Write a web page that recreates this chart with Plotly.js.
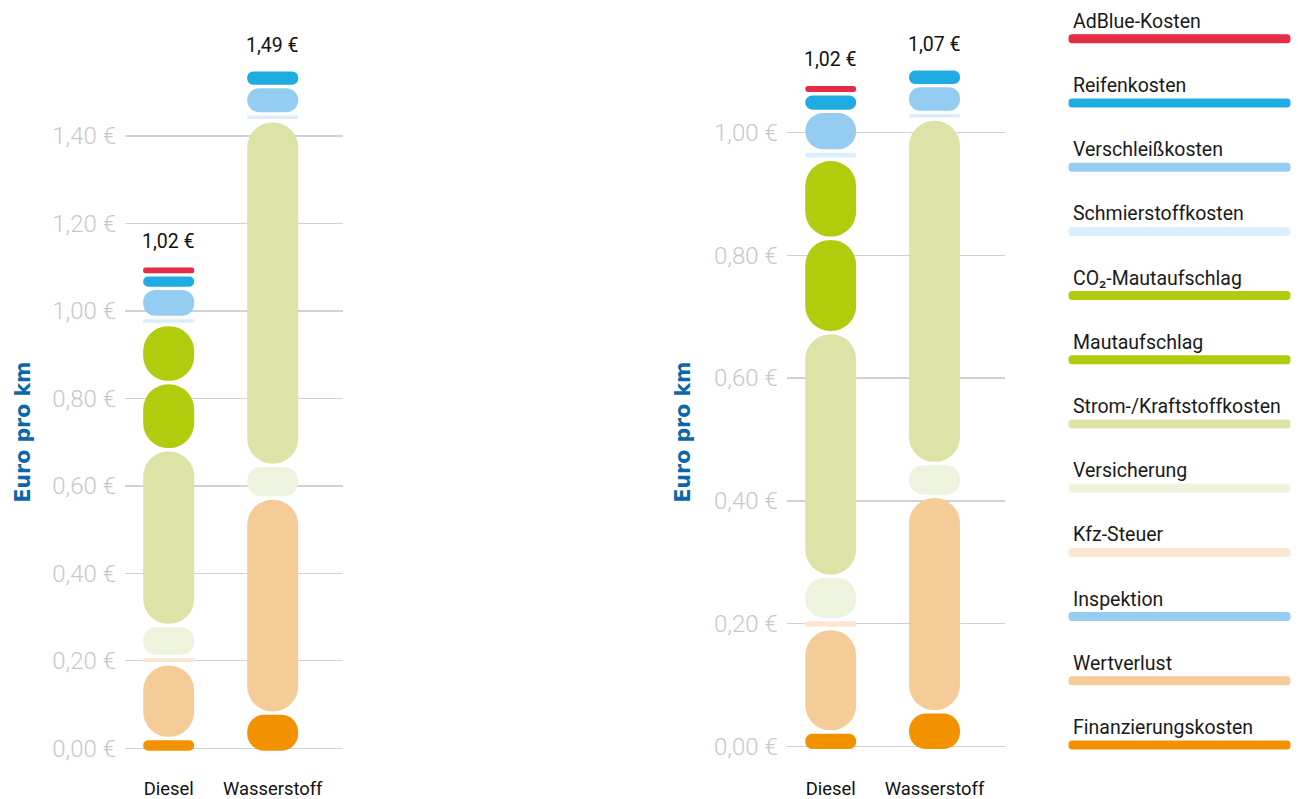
<!DOCTYPE html>
<html>
<head>
<meta charset="utf-8">
<script src="https://cdn.plot.ly/plotly-3.0.1.min.js"></script>
<style>
html, body { margin: 0; padding: 0; background: #ffffff; }
#chart { width: 1298px; height: 799px; }
</style>
</head>
<body>
<div id="chart"></div>
<script>
// ---------- data ----------
const categories = ['Diesel', 'Wasserstoff'];

// stack order, bottom -> top
const costNames = [
  'Finanzierungskosten', 'Wertverlust', 'Inspektion', 'Kfz-Steuer', 'Versicherung',
  'Strom-/Kraftstoffkosten', 'Mautaufschlag', 'CO₂-Mautaufschlag', 'Schmierstoffkosten',
  'Verschleißkosten', 'Reifenkosten', 'AdBlue-Kosten'
];
const costColors = [
  '#f29200', '#f5cc98', '#94cdf1', '#fbe6d2', '#eef3dd',
  '#dde3a6', '#b1cb0d', '#b1cb0d', '#dcedfb',
  '#94cdf1', '#1eace2', '#e62c45'
];

// Scenario A (left panel)
const dieselA   = [0.024, 0.163, 0, 0.009, 0.063, 0.394, 0.146, 0.125, 0.008, 0.059, 0.023, 0.013];
const hydrogenA = [0.082, 0.484, 0, 0,     0.067, 0.780, 0,     0,     0.008, 0.055, 0.030, 0];
const totalsA   = ['1,02 €', '1,49 €'];

// Scenario B (right panel)
const dieselB   = [0.025, 0.163, 0, 0.009, 0.065, 0.391, 0.148, 0.123, 0.008, 0.059, 0.023, 0.010];
const hydrogenB = [0.058, 0.345, 0, 0,     0.048, 0.555, 0,     0,     0.0054, 0.038, 0.0217, 0];
const totalsB   = ['1,02 €', '1,07 €'];

const tickValsA = [0, 0.2, 0.4, 0.6, 0.8, 1.0, 1.2, 1.4];
const tickTextA = ['0,00 €', '0,20 €', '0,40 €', '0,60 €', '0,80 €', '1,00 €', '1,20 €', '1,40 €'];
const tickValsB = [0, 0.2, 0.4, 0.6, 0.8, 1.0];
const tickTextB = ['0,00 €', '0,20 €', '0,40 €', '0,60 €', '0,80 €', '1,00 €'];

const axisTitle = 'Euro pro km';

// ---------- style ----------
const W = 1298, H = 799;
const GAP_PX = 3.4;       // white gap between segments
const START_PX = 2.4;     // stack starts slightly below zero line
const BAR_W_PX = 51;
const X_STEP_PX = 104;
const LEG_THICK_PX = 9;

const FONT = 'Roboto, "Open Sans", "DejaVu Sans", sans-serif';
const TITLE_FONT = { family: '"DejaVu Sans", sans-serif', size: 20.5, color: '#0c67a8', weight: 700 };

const panels = [
  { xa: 'x',  ya: 'y',  series: [dieselA, hydrogenA], totals: totalsA,
    xDomain: [125 / W, 343 / W], xRange: [-0.42, 1.676],
    yDomain: [0.03129, 0.93930], yRange: [-0.0588, 1.60],
    tickVals: tickValsA, tickText: tickTextA, titleX: 22.5 / W },
  { xa: 'x2', ya: 'y2', series: [dieselB, hydrogenB], totals: totalsB,
    xDomain: [786.7 / W, 1005 / W], xRange: [-0.424, 1.679],
    yDomain: [0.03129, 0.94976], yRange: [-0.0444, 1.15],
    tickVals: tickValsB, tickText: tickTextB, titleX: 682.5 / W }
];

const traces = [];
const annotations = [];

panels.forEach(function (p) {
  const ppu = (p.yDomain[1] - p.yDomain[0]) * H / (p.yRange[1] - p.yRange[0]);
  const gap = GAP_PX / ppu, start = -START_PX / ppu;
  const bw = BAR_W_PX / X_STEP_PX;
  p.series.forEach(function (vals, ci) {
    let cum = start;
    let first = true;
    vals.forEach(function (v, si) {
      if (!(v > 0)) return;
      if (!first) cum += gap;
      first = false;
      const r = Math.min(BAR_W_PX / 2, v * ppu / 2);
      traces.push({
        type: 'bar', xaxis: p.xa, yaxis: p.ya, width: bw,
        x: [ci], base: [cum], y: [v],
        marker: { color: costColors[si], cornerradius: r },
        showlegend: false, hoverinfo: 'skip', name: costNames[si]
      });
      cum += v;
    });
    annotations.push({
      xref: p.xa, yref: p.ya, x: ci, y: cum, yanchor: 'bottom', yshift: 13,
      text: p.totals[ci], showarrow: false,
      font: { family: FONT, size: 19.5, color: '#111111' }
    });
  });
  // vertical axis title
  annotations.push({
    xref: 'paper', yref: 'paper', x: p.titleX, y: (H - 432) / H,
    xanchor: 'center', yanchor: 'middle', textangle: -90,
    text: axisTitle, showarrow: false, font: TITLE_FONT
  });
});

// ---------- legend (drawn as a third, hidden subplot) ----------
const legYDomain = [0.0274, 0.9916];
const legPxPerCat = (legYDomain[1] - legYDomain[0]) * H / costNames.length;
const legThick = LEG_THICK_PX / legPxPerCat;
const legXDomain = [1068.3 / W, 1290.7 / W];
costNames.forEach(function (name, i) {
  traces.push({
    type: 'bar', orientation: 'h', xaxis: 'x3', yaxis: 'y3', width: legThick,
    y: [name], base: [0], x: [1],
    marker: { color: costColors[i], cornerradius: LEG_THICK_PX / 2 },
    showlegend: false, hoverinfo: 'skip', name: name
  });
  annotations.push({
    xref: 'x3', yref: 'y3', x: 0, y: name, xanchor: 'left', yanchor: 'bottom',
    xshift: 3, yshift: 4, text: name, showarrow: false,
    font: { family: FONT, size: 19.5, color: '#1a1a1a' }
  });
});

function yAxis(p) {
  return {
    domain: p.yDomain, range: p.yRange, anchor: p.xa,
    tickmode: 'array', tickvals: p.tickVals, ticktext: p.tickText,
    tickfont: { family: FONT, size: 24, color: '#c8c8c8', weight: 300 },
    ticks: '', ticklabelstandoff: 8,
    showgrid: true, gridcolor: '#d2d2d2', gridwidth: 1.3,
    zeroline: false, showline: false, fixedrange: true
  };
}
function xAxis(p) {
  return {
    domain: p.xDomain, range: p.xRange, anchor: p.ya,
    tickmode: 'array', tickvals: [0, 1], ticktext: categories,
    tickfont: { family: FONT, size: 18.4, color: '#111111' },
    ticks: '', ticklabelstandoff: 2,
    showgrid: false, zeroline: false, showline: false, fixedrange: true
  };
}

const layout = {
  width: W, height: H,
  margin: { l: 0, r: 0, t: 0, b: 0, pad: 0 },
  paper_bgcolor: '#ffffff', plot_bgcolor: 'rgba(0,0,0,0)',
  barmode: 'overlay', showlegend: false,
  xaxis: xAxis(panels[0]), yaxis: yAxis(panels[0]),
  xaxis2: xAxis(panels[1]), yaxis2: yAxis(panels[1]),
  xaxis3: { domain: legXDomain, range: [0, 1], anchor: 'y3', visible: false, fixedrange: true },
  yaxis3: { domain: legYDomain, type: 'category', categoryorder: 'array', categoryarray: costNames,
            range: [-0.5, costNames.length - 0.5], anchor: 'x3', visible: false, fixedrange: true },
  annotations: annotations
};

Plotly.newPlot('chart', traces, layout, { displayModeBar: false, staticPlot: true });
</script>
</body>
</html>
